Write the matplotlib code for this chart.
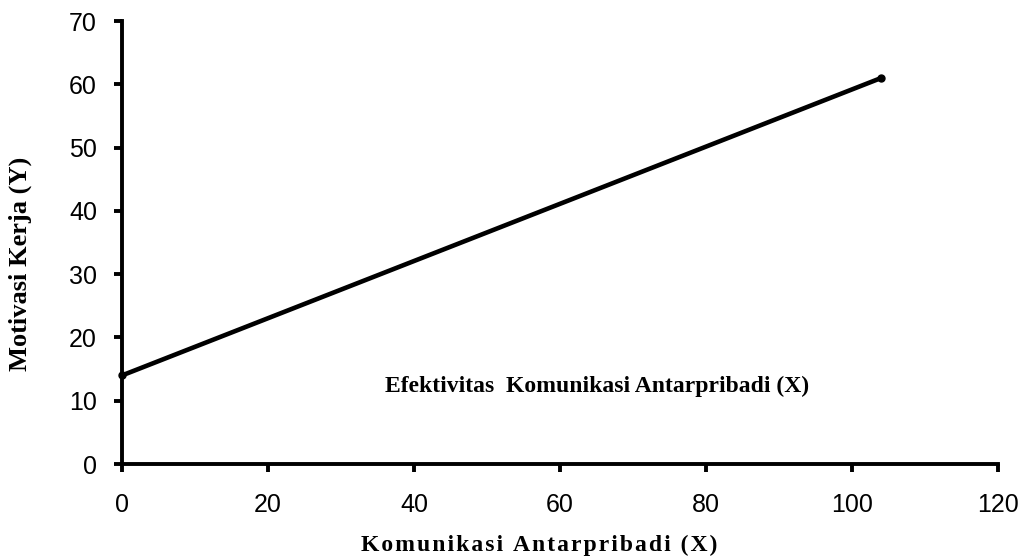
import matplotlib
matplotlib.use('Agg')
import matplotlib.pyplot as plt

# regression line endpoints
x_vals = [0, 104]
y_vals = [14, 61]
x_ticks = [0, 20, 40, 60, 80, 100, 120]
y_ticks = [0, 10, 20, 30, 40, 50, 60, 70]

fig = plt.figure(figsize=(10.27, 5.59), dpi=100)
ax = fig.add_axes([0.1188, 0.1699, 0.853, 0.7925])

ax.plot(x_vals, y_vals, color='black', linewidth=3.3, marker='o', markersize=5,
        solid_capstyle='butt', clip_on=False)

ax.set_xlim(0, 120)
ax.set_ylim(0, 70)
ax.set_xticks(x_ticks)
ax.set_yticks(y_ticks)
ax.spines['top'].set_visible(False)
ax.spines['right'].set_visible(False)
for s in ['left', 'bottom']:
    ax.spines[s].set_linewidth(2.8)
ax.tick_params(direction='out', length=6, width=2.8, labelsize=18)
ax.tick_params(axis='x', pad=15)
ax.tick_params(axis='y', pad=12)
for lab in ax.get_xticklabels() + ax.get_yticklabels():
    lab.set_fontfamily('Liberation Sans')

ax.text(65.1, 12.3, 'Efektivitas  Komunikasi Antarpribadi (X)', ha='center', va='center',
        fontsize=17, fontweight='bold', fontfamily='Liberation Serif')

# x label is letter-spaced in the original
xlab = '\u200a'.join('Komunikasi Antarpribadi (X)')
fig.text(539 / 1027, 1 - 545 / 559, xlab, ha='center', va='center',
         fontsize=17, fontweight='bold', fontfamily=['Liberation Serif', 'DejaVu Serif'])
fig.text(20 / 1027, 1 - 264 / 559, 'Motivasi Kerja (Y)', ha='center', va='center', rotation=90,
         fontsize=19, fontweight='bold', fontfamily='Liberation Serif')

fig.savefig('out.png', dpi=100)
